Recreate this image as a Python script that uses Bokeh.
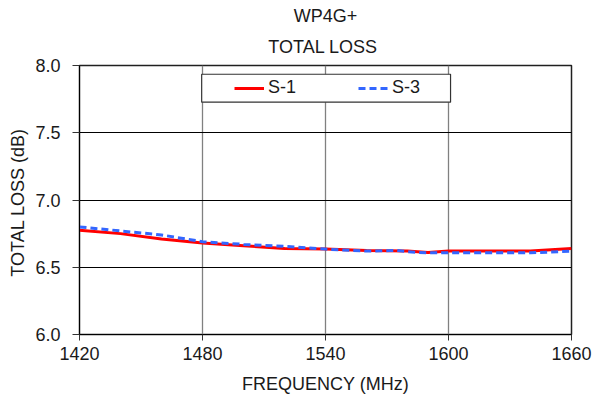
from bokeh.plotting import figure
from bokeh.models import (FixedTicker, NumeralTickFormatter, Title, Legend, LegendItem,
                          BoxAnnotation, Range1d)
from bokeh.embed import file_html
from bokeh.resources import INLINE

# Data
freq_s1 = [1420, 1440, 1460, 1480, 1500, 1520, 1540, 1560, 1580, 1590, 1600, 1620, 1640, 1660]
loss_s1 = [6.775, 6.75, 6.71, 6.68, 6.66, 6.64, 6.635, 6.625, 6.62, 6.61, 6.62, 6.62, 6.62, 6.64]
freq_s3 = [1420, 1440, 1460, 1480, 1500, 1520, 1540, 1560, 1575, 1580, 1590, 1600, 1620, 1640, 1660]
loss_s3 = [6.80, 6.77, 6.74, 6.69, 6.67, 6.655, 6.635, 6.62, 6.625, 6.615, 6.607, 6.607, 6.607, 6.607, 6.62]
x_ticks = [1420, 1480, 1540, 1600, 1660]
y_ticks = [6.0, 6.5, 7.0, 7.5, 8.0]
title_line1 = "WP4G+"
title_line2 = "TOTAL  LOSS"

FONT = "Liberation Sans"
FS = "18px"
TXT = "#1a1a1a"

p = figure(width=592, height=405, output_backend="svg", toolbar_location=None,
           x_range=Range1d(1420, 1660), y_range=Range1d(6.0, 8.0),
           min_border_left=79, min_border_right=21, min_border_top=65, min_border_bottom=71)

p.background_fill_color = "white"
p.border_fill_color = "white"
p.outline_line_color = "#202020"
p.outline_line_width = 1.5

t2 = Title(text=title_line2, align="center", text_font=FONT, text_font_size=FS,
           text_font_style="normal", text_color=TXT, standoff=18)
t1 = Title(text=title_line1, align="center", text_font=FONT, text_font_size=FS,
           text_font_style="normal", text_color=TXT, standoff=0, text_line_height=0.8)
p.add_layout(t2, "above")
p.add_layout(t1, "above")

# Axes
for ax in (p.xaxis[0], p.yaxis[0]):
    ax.axis_line_color = "black"
    ax.major_tick_line_color = "#333333"
    ax.major_tick_in = 0
    ax.minor_tick_line_color = None
    ax.major_label_text_font = FONT
    ax.major_label_text_font_size = FS
    ax.major_label_text_color = TXT
    ax.axis_label_text_font = FONT
    ax.axis_label_text_font_size = FS
    ax.axis_label_text_font_style = "normal"
    ax.axis_label_text_color = TXT

p.xaxis.ticker = FixedTicker(ticks=x_ticks)
p.yaxis.ticker = FixedTicker(ticks=y_ticks)
p.yaxis.formatter = NumeralTickFormatter(format="0.0")
p.xaxis.major_tick_out = 6
p.yaxis.major_tick_out = 7
p.xaxis.major_label_standoff = 6
p.yaxis.major_label_standoff = 12
p.xaxis.axis_label = "FREQUENCY (MHz)"
p.yaxis.axis_label = "TOTAL  LOSS (dB)"
p.xaxis.axis_label_standoff = 11
p.yaxis.axis_label_standoff = 4

p.xgrid.grid_line_color = "#808080"
p.xgrid.grid_line_width = 1.3
p.ygrid.grid_line_color = "black"
p.ygrid.grid_line_width = 1

r1 = p.line(freq_s1, loss_s1, line_color="#FF0000", line_width=3)
r3 = p.line(freq_s3, loss_s3, line_color="#3366FF", line_width=3, line_dash="7 4")

box = BoxAnnotation(left=1479.6, right=1601, top=7.935, bottom=7.727,
                    fill_color="white", fill_alpha=1.0, line_color="#333333",
                    line_width=1.2, line_alpha=1.0)
p.add_layout(box)

legend = Legend(items=[LegendItem(label="S-1", renderers=[r1]),
                       LegendItem(label="S-3", renderers=[r3])],
                orientation="horizontal", location=(151, 232),
                background_fill_alpha=0, border_line_alpha=0,
                padding=4, spacing=62, glyph_width=30, glyph_height=20,
                label_standoff=4, label_text_font=FONT, label_text_font_size=FS,
                label_text_color=TXT, margin=0)
p.add_layout(legend, "center")

html = file_html(p, INLINE)
open("out.html", "w").write(html)
